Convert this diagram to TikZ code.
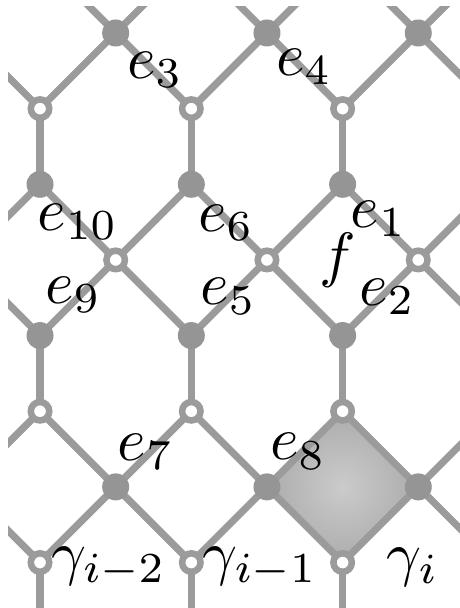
\documentclass[tikz,border=0pt]{standalone}
\usepackage{graphicx}
\usepackage{xcolor}
\usepackage{tikz}
\usetikzlibrary{calc}
\definecolor{lgry}{HTML}{9B9B9B}
\definecolor{dgry}{HTML}{959595}
\definecolor{fin}{HTML}{CBCBCB}
\definecolor{fout}{HTML}{ACACAC}
\newcommand{\lbl}[1]{\scalebox{2.3}{$#1$}}
\tikzset{
  edge/.style ={draw=lgry, line width=2.7pt},
  fdot/.style ={circle, fill=dgry, inner sep=0pt, minimum size=3.57mm},
  odot/.style ={circle, draw=lgry, fill=white, line width=2.45pt, inner sep=0pt, minimum size=2.44mm},
  lab/.style  ={inner sep=0pt},
}

\begin{document}
\begin{tikzpicture}
  \useasboundingbox (-0.529,0.436) rectangle (5.539,-7.601);
  \clip (-0.423,0.344) rectangle (5.7,-7.7);
  % lattice points, row R and column C
  \foreach \R in {0,...,9}
    \foreach \C in {0,...,8}
      \coordinate (v-\R-\C) at (\C-2,1-\R);
  % shaded face
  \shade[inner color=fin, outer color=fout] (v-6-6) -- (v-7-7) -- (v-8-6) -- (v-7-5) -- cycle;
  % zig-zag edges
  \foreach \h/\f in {1/0,1/2,4/3,4/5,7/6,7/8}
    \foreach \l/\c/\r in {0/1/2,2/3/4,4/5/6,6/7/8}
      \draw[edge] (v-\f-\l) -- (v-\h-\c) -- (v-\f-\r);
  % vertical edges
  \foreach \a/\b in {2/3,5/6,8/9}
    \foreach \c in {0,2,...,8}
      \draw[edge] (v-\a-\c) -- (v-\b-\c);
  % dots
  \foreach \R/\C in {1/3,1/5,1/7,3/2,3/4,3/6,5/2,5/4,5/6,7/3,7/5,7/7}
    \node[fdot] (d-\R-\C) at (v-\R-\C) {};
  \foreach \R/\C in {2/2,2/4,2/6,4/3,4/5,4/7,6/2,6/4,6/6,8/2,8/4,8/6}
    \node[odot] (o-\R-\C) at (v-\R-\C) {};

  % labels
  \node[lab] (e3)  at (1.52,-0.49) {\lbl{e_3}};
  \node[lab] (e4)  at (3.49,-0.45) {\lbl{e_4}};
  \node[lab] (e10) at (0.50,-2.50) {\lbl{e_{10}}};
  \node[lab] (e6)  at (2.46,-2.51) {\lbl{e_6}};
  \node[lab] (e1)  at (4.48,-2.46) {\lbl{e_1}};
  \node[lab] (f)   at (3.93,-3.00) {\lbl{f}};
  \node[lab] (e9)  at (0.44,-3.46) {\lbl{e_9}};
  \node[lab] (e5)  at (2.49,-3.48) {\lbl{e_5}};
  \node[lab] (e2)  at (4.59,-3.49) {\lbl{e_2}};
  \node[lab] (e7)  at (1.40,-5.54) {\lbl{e_7}};
  \node[lab] (e8)  at (3.41,-5.53) {\lbl{e_8}};
  \node[lab] (g2)  at (0.91,-7.06) {\lbl{\gamma_{i-2}}};
  \node[lab] (g1)  at (2.91,-7.06) {\lbl{\gamma_{i-1}}};
  \node[lab] (g0)  at (4.93,-7.06) {\lbl{\gamma_i}};
\end{tikzpicture}
\end{document}
